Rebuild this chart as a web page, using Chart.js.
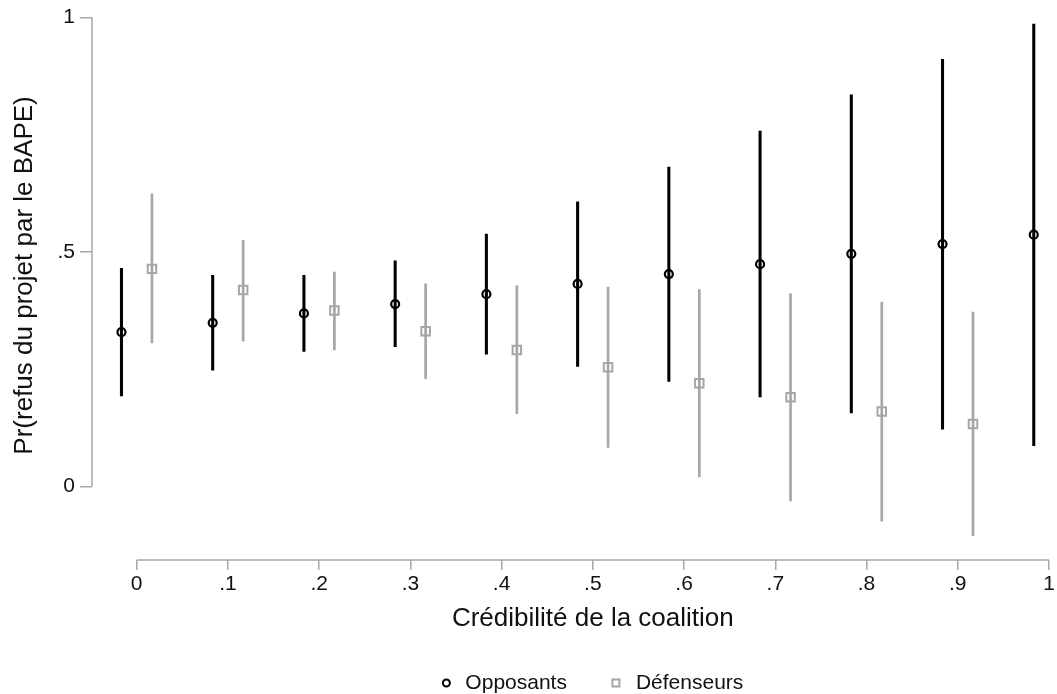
<!DOCTYPE html>
<html>
<head>
<meta charset="utf-8">
<title>Pr(refus du projet par le BAPE)</title>
<script src="https://cdn.jsdelivr.net/npm/chart.js@4/dist/chart.umd.min.js"></script>
<style>
  html, body { margin: 0; padding: 0; background: #fff; }
  #wrap { width: 1057px; height: 694px; position: relative; }
</style>
</head>
<body>
<div id="wrap"><canvas id="chart"></canvas></div>
<script>
// values
const credibilite = [0, 0.1, 0.2, 0.3, 0.4, 0.5, 0.6, 0.7, 0.8, 0.9, 1];

const opposantsEst = [0.329, 0.349, 0.369, 0.389, 0.410, 0.432, 0.453, 0.474, 0.496, 0.517, 0.537];
const opposantsLo  = [0.193, 0.248, 0.288, 0.298, 0.282, 0.256, 0.224, 0.191, 0.157, 0.122, 0.087];
const opposantsHi  = [0.465, 0.450, 0.450, 0.481, 0.538, 0.607, 0.681, 0.758, 0.835, 0.911, 0.986];

const defenseursEst = [0.464, 0.419, 0.375, 0.331, 0.291, 0.254, 0.220, 0.190, 0.160, 0.133, null];
const defenseursLo  = [0.306, 0.310, 0.291, 0.230, 0.155, 0.083, 0.020, -0.031, -0.074, -0.105, null];
const defenseursHi  = [0.624, 0.525, 0.457, 0.432, 0.428, 0.425, 0.420, 0.411, 0.393, 0.372, null];

const xTicks = [0, 0.1, 0.2, 0.3, 0.4, 0.5, 0.6, 0.7, 0.8, 0.9, 1];
const yTicks = [0, 0.5, 1];

const seriesNames = ["Opposants", "Défenseurs"];
const xTitle = "Crédibilité de la coalition";
const yTitle = "Pr(refus du projet par le BAPE)";

// small horizontal shift so the two groups sit side by side
const shift = 0.0167;

const BLACK = "#000000";
const GREY = "#a6a6a6";
const AXIS = "#a8a8a8";
const FONT = "'Liberation Sans', Arial, Helvetica, sans-serif";

function stataLabel(v) {
  const r = Math.round(v * 10) / 10;
  if (r === 0) return "0";
  if (r === 1) return "1";
  return String(r).replace(/^0/, "");
}

function ciData(lo, hi, dx) {
  const out = [];
  credibilite.forEach((c, i) => {
    if (lo[i] == null) return;
    out.push({ x: c + dx, y: [lo[i], hi[i]] });
  });
  return out;
}

function pointData(est, dx) {
  const out = [];
  credibilite.forEach((c, i) => {
    if (est[i] == null) return;
    out.push({ x: c + dx, y: est[i] });
  });
  return out;
}

// axis lines only over 0..1, titles and legend placed like Stata does
const stataDecor = {
  id: "stataDecor",
  beforeDatasetsDraw(chart) {
    const ctx = chart.ctx;
    const x = chart.scales.x, y = chart.scales.y;
    const area = chart.chartArea;
    ctx.save();
    ctx.strokeStyle = AXIS;
    ctx.lineWidth = 1.5;
    ctx.beginPath();
    ctx.moveTo(area.left, y.getPixelForValue(0));
    ctx.lineTo(area.left, y.getPixelForValue(1));
    ctx.moveTo(x.getPixelForValue(0), area.bottom);
    ctx.lineTo(x.getPixelForValue(1), area.bottom);
    ctx.stroke();
    ctx.restore();
  },
  afterDraw(chart) {
    const ctx = chart.ctx;
    const x = chart.scales.x, y = chart.scales.y;
    const area = chart.chartArea;
    ctx.save();
    ctx.fillStyle = "#111";
    ctx.font = "26px " + FONT;
    ctx.textAlign = "center";
    ctx.textBaseline = "middle";
    ctx.fillText(xTitle, x.getPixelForValue(0.5), area.bottom + 59);

    ctx.save();
    ctx.translate(25, y.getPixelForValue(0.45));
    ctx.rotate(-Math.PI / 2);
    ctx.fillText(yTitle, 0, 0);
    ctx.restore();

    // legend
    ctx.font = "21px " + FONT;
    const w0 = ctx.measureText(seriesNames[0]).width;
    const w1 = ctx.measureText(seriesNames[1]).width;
    const total = 4 + 19 + w0 + 49 + 20 + w1;
    let lx = x.getPixelForValue(0.5) - total / 2 + 4;
    const ly = area.bottom + 123;
    ctx.lineWidth = 2;
    ctx.strokeStyle = BLACK;
    ctx.beginPath();
    ctx.arc(lx, ly, 3.5, 0, Math.PI * 2);
    ctx.stroke();
    ctx.textAlign = "left";
    ctx.fillText(seriesNames[0], lx + 19, ly);
    lx = lx + 19 + w0 + 49;
    ctx.strokeStyle = GREY;
    ctx.strokeRect(lx - 3.5, ly - 3.5, 7, 7);
    ctx.fillText(seriesNames[1], lx + 20, ly);
    ctx.restore();
  }
};

new Chart(document.getElementById("chart"), {
  type: "scatter",
  data: {
    datasets: [
      {
        type: "bar",
        label: seriesNames[0] + " IC",
        data: ciData(opposantsLo, opposantsHi, -shift),
        backgroundColor: BLACK,
        barThickness: 2.4,
        grouped: false,
        order: 3
      },
      {
        type: "bar",
        label: seriesNames[1] + " IC",
        data: ciData(defenseursLo, defenseursHi, shift),
        backgroundColor: GREY,
        barThickness: 2,
        grouped: false,
        order: 3
      },
      {
        type: "scatter",
        label: seriesNames[0],
        data: pointData(opposantsEst, -shift),
        pointStyle: "circle",
        pointRadius: 4,
        pointBorderWidth: 2.2,
        borderColor: BLACK,
        backgroundColor: "rgba(0,0,0,0)",
        order: 1
      },
      {
        type: "scatter",
        label: seriesNames[1],
        data: pointData(defenseursEst, shift),
        pointStyle: "rect",
        pointRadius: 6,
        pointBorderWidth: 2,
        borderColor: GREY,
        backgroundColor: "rgba(0,0,0,0)",
        order: 2
      }
    ]
  },
  options: {
    responsive: true,
    maintainAspectRatio: false,
    animation: false,
    layout: { padding: { top: 16, right: 7, left: 0, bottom: 0 } },
    plugins: {
      legend: { display: false },
      tooltip: { enabled: false }
    },
    scales: {
      x: {
        type: "linear",
        offset: false,
        min: -0.049,
        max: 1,
        afterBuildTicks: (s) => { s.ticks = xTicks.map(v => ({ value: v })); },
        afterFit: (s) => { s.height = 134; },
        ticks: {
          callback: (v) => stataLabel(v),
          font: { family: FONT, size: 21 },
          color: "#111",
          padding: 2,
          maxRotation: 0,
          autoSkip: false
        },
        grid: {
          offset: false,
          drawOnChartArea: false,
          drawTicks: true,
          tickLength: 10,
          color: AXIS,
          lineWidth: 1.5
        },
        border: { display: false }
      },
      y: {
        type: "linear",
        min: -0.157,
        max: 1,
        afterBuildTicks: (s) => { s.ticks = yTicks.map(v => ({ value: v })); },
        afterFit: (s) => { s.width = 92; },
        ticks: {
          callback: (v) => stataLabel(v),
          font: { family: FONT, size: 21 },
          color: "#111",
          padding: 5,
          autoSkip: false
        },
        grid: {
          drawOnChartArea: false,
          drawTicks: true,
          tickLength: 12,
          color: AXIS,
          lineWidth: 1.5
        },
        border: { display: false }
      }
    }
  },
  plugins: [stataDecor]
});
</script>
</body>
</html>
